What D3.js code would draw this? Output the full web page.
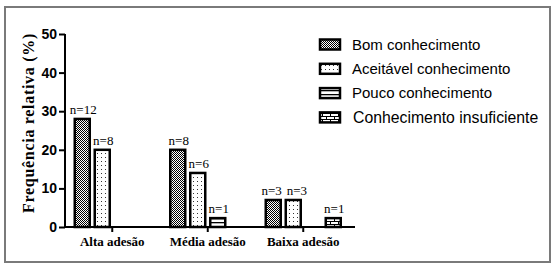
<!DOCTYPE html>
<html>
<head>
<meta charset="utf-8">
<script src="https://cdn.jsdelivr.net/npm/d3@7"></script>
<style>
  body { margin: 0; background: #fff; }
  svg { display: block; }
</style>
</head>
<body>
<svg id="chart" width="558" height="268"></svg>
<script>
// dados
const grupos = ["Alta adesão", "Média adesão", "Baixa adesão"];
const series = ["Bom conhecimento", "Aceitável conhecimento", "Pouco conhecimento", "Conhecimento insuficiente"];
const valores = [
    [28, 20, 0, 0],
    [20, 14, 2.3, 0],
    [7, 7, 0, 2.3]
];
const rotulos = [
    ["n=12", "n=8", "", ""],
    ["n=8", "n=6", "n=1", ""],
    ["n=3", "n=3", "", "n=1"]
];
const yTicks = [0, 10, 20, 30, 40, 50];
const padroes = ["p-bom", "p-aceit", "p-pouco", "p-insuf"];

let svg = d3.select("#chart");

// moldura
svg.append("rect")
    .attr("x", 5).attr("y", 7)
    .attr("width", 545).attr("height", 255)
    .attr("fill", "none")
    .attr("stroke", "#7a7a7a")
    .attr("stroke-width", 2);

// padrões de preenchimento
let defs = svg.append("defs");

let pb = defs.append("pattern").attr("id", "p-bom")
    .attr("patternUnits", "userSpaceOnUse").attr("width", 2).attr("height", 2);
pb.append("rect").attr("width", 2).attr("height", 2).attr("fill", "#fff");
pb.append("rect").attr("width", 1).attr("height", 1).attr("fill", "#000");
pb.append("rect").attr("x", 1).attr("y", 1).attr("width", 1).attr("height", 1).attr("fill", "#000");

let pa = defs.append("pattern").attr("id", "p-aceit")
    .attr("patternUnits", "userSpaceOnUse").attr("width", 4).attr("height", 4);
pa.append("rect").attr("width", 4).attr("height", 4).attr("fill", "#fff");
pa.append("rect").attr("x", 1).attr("y", 1).attr("width", 1).attr("height", 1).attr("fill", "#333");

let pp = defs.append("pattern").attr("id", "p-pouco")
    .attr("patternUnits", "userSpaceOnUse").attr("width", 4).attr("height", 4);
pp.append("rect").attr("width", 4).attr("height", 4).attr("fill", "#fff");
pp.append("rect").attr("y", 2).attr("width", 4).attr("height", 1.3).attr("fill", "#000");

let pi = defs.append("pattern").attr("id", "p-insuf")
    .attr("patternUnits", "userSpaceOnUse").attr("width", 8).attr("height", 6);
pi.append("rect").attr("width", 8).attr("height", 6).attr("fill", "#fff");
pi.append("rect").attr("y", 2).attr("width", 8).attr("height", 1).attr("fill", "#000");
pi.append("rect").attr("y", 5).attr("width", 8).attr("height", 1).attr("fill", "#000");
pi.append("rect").attr("x", 2).attr("y", 0).attr("width", 1).attr("height", 2).attr("fill", "#000");
pi.append("rect").attr("x", 6).attr("y", 3).attr("width", 1).attr("height", 2).attr("fill", "#000");

// escalas
const y = d3.scaleLinear().domain([0, 50]).range([227, 34]);
const x0 = d3.scaleBand().domain(grupos).range([64.5, 351]);
const x1 = d3.scaleBand().domain(series).range([-40, 40]).paddingInner(0.25).paddingOuter(0.125);

// barras
let g = svg.append("g");
grupos.forEach((grp, i) => {
    let cx = x0(grp) + x0.bandwidth() / 2;
    let labs = [];
    series.forEach((s, j) => {
        let v = valores[i][j];
        if (v > 0) {
            g.append("rect")
                .attr("x", cx + x1(s))
                .attr("y", y(v))
                .attr("width", x1.bandwidth())
                .attr("height", y(0) - y(v))
                .attr("fill", `url(#${padroes[j]})`)
                .attr("stroke", "#000")
                .attr("stroke-width", 2.5);
        }
        if (rotulos[i][j]) {
            let t = g.append("text")
                .attr("x", cx + x1(s) + x1.bandwidth() / 2 + 1)
                .attr("y", y(v) - 5)
                .attr("text-anchor", "middle")
                .style("font", "13px 'Liberation Serif', 'Times New Roman', serif")
                .text(rotulos[i][j]);
            labs.push(t);
        }
    });
    // afastar rótulos vizinhos que se sobrepõem
    for (let k = 1; k < labs.length; k++) {
        let a = labs[k - 1].node().getBBox(), b = labs[k].node().getBBox();
        let vert = Math.abs(a.y - b.y) < a.height;
        let over = a.x + a.width + 5 - b.x;
        if (vert && over > 0) {
            labs[k - 1].attr("x", +labs[k - 1].attr("x") - over / 2);
            labs[k].attr("x", +labs[k].attr("x") + over / 2);
        }
    }
});

// eixo y
let yAxis = svg.append("g")
    .attr("transform", "translate(65,0)")
    .call(d3.axisLeft(y).tickValues(yTicks).tickSize(6).tickPadding(2));
yAxis.select(".domain").attr("stroke-width", 2).attr("d", "M0,34V228");
yAxis.selectAll(".tick line").attr("stroke-width", 2);
yAxis.selectAll(".tick text")
    .style("font", "bold 14px 'Liberation Sans', Arial, sans-serif")
    .attr("fill", "#000");

// eixo x
let xAxis = svg.append("g")
    .attr("transform", "translate(0,227)")
    .call(d3.axisBottom(x0).tickSize(5).tickPadding(5));
xAxis.select(".domain").attr("stroke-width", 2).attr("d", "M64,0H355");
xAxis.selectAll(".tick line").attr("stroke-width", 2);
xAxis.selectAll(".tick text")
    .style("font", "bold 13px 'Liberation Serif', 'Times New Roman', serif")
    .attr("fill", "#000");

// título do eixo y
svg.append("text")
    .attr("transform", "translate(34,123) rotate(-90)")
    .attr("text-anchor", "middle")
    .style("font", "bold 16px 'Liberation Serif', 'Times New Roman', serif")
    .style("letter-spacing", "0.7px")
    .text("Frequência relativa (%)");

// legenda
let leg = svg.append("g");
series.forEach((s, j) => {
    let yy = 44.5 + j * 24.3;
    leg.append("rect")
        .attr("x", 320).attr("y", yy - 5)
        .attr("width", 20).attr("height", 10)
        .attr("fill", `url(#${padroes[j]})`)
        .attr("stroke", "#000")
        .attr("stroke-width", 2.5);
    leg.append("text")
        .attr("x", j === 3 ? 353 : 352)
        .attr("y", yy)
        .attr("dy", "0.35em")
        .style("font", (j === 3 ? "15.8px" : "15px") + " 'Liberation Sans', Arial, sans-serif")
        .text(s);
});
</script>
</body>
</html>
